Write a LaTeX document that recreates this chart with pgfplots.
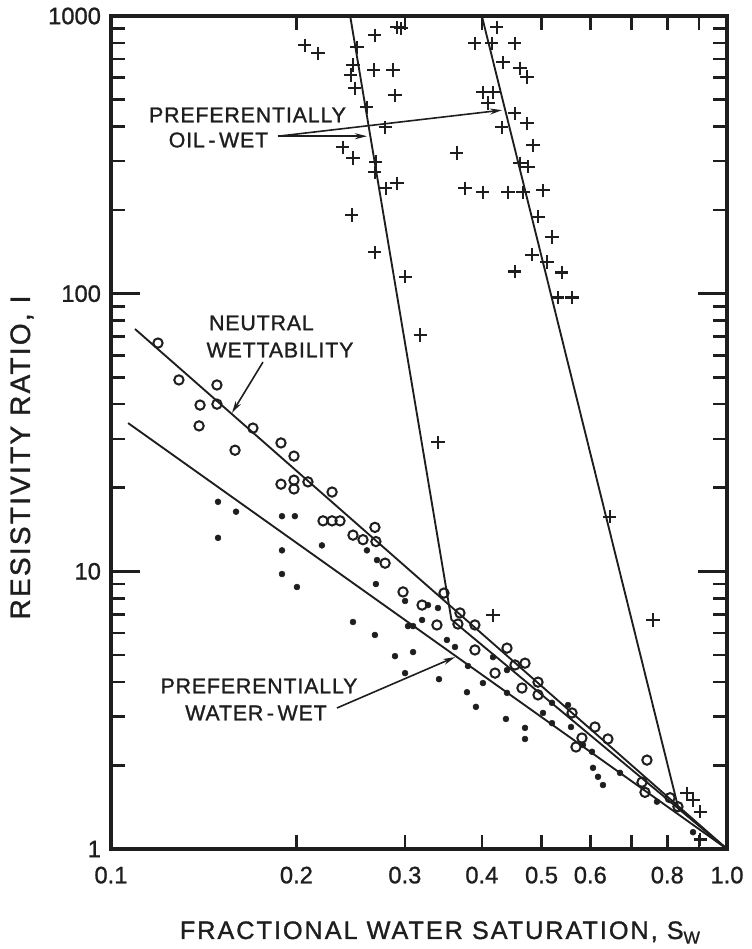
\documentclass[border=0pt]{standalone}
\usepackage{fontspec}
\setmainfont[FakeBold=1]{Liberation Sans}
\newfontfamily\tickfont[FakeBold=1]{Liberation Sans}
\newfontfamily\annfont[LetterSpace=4,FakeBold=1.2]{Liberation Sans}
\newfontfamily\axfont[LetterSpace=8,FakeBold=1.2]{Liberation Sans}
\usepackage{pgfplots}
\pgfplotsset{compat=1.18}
\usetikzlibrary{arrows.meta}
\definecolor{ink}{RGB}{30,30,30}

\pgfplotstableread{
x y
0.2064 785
0.2168 735
0.2508 773
0.2471 666
0.2452 613
0.2489 550
0.2603 470
0.2380 337
0.2471 308
0.2692 298
0.2682 274
0.2461 192
0.2682 141
0.2682 853
0.2672 639
0.2870 639
0.2891 519
0.2786 398
0.2913 912
0.2957 904
0.2795 240
0.2913 250
0.3645 321
0.3756 240
0.4016 232
0.4411 232
0.4665 232
0.5027 236
0.3898 799
0.4154 799
0.4232 912
0.4527 799
0.4329 682
0.4613 649
0.4735 603
0.4016 532
0.4170 532
0.4093 486
0.4527 447
0.4735 411
0.4312 398
0.4843 343
0.4613 295
0.4753 286
0.4934 189
0.5199 160
0.4824 138
0.5103 130
0.4527 120
0.5396 119
0.5316 97
0.5603 97
0.3002 115
0.3175 71
0.3395 29.2
0.6457 15.7
0.4170 6.96
0.7585 6.68
0.8611 1.59
0.8807 1.50
0.9042 1.36
0.9042 1.08
}\oilwet

\pgfplotstableread{
x y
0.1192 66.4
0.1289 48.9
0.1486 46.9
0.1395 39.7
0.1486 40.0
0.1390 33.4
0.1700 32.8
0.1590 27.3
0.1888 29.0
0.1982 26.0
0.1888 20.6
0.1982 21.3
0.1982 19.8
0.2088 21.0
0.2285 19.3
0.2209 15.2
0.2285 15.2
0.2354 15.2
0.2471 13.5
0.2565 13.0
0.2682 14.4
0.2692 12.8
0.2786 10.7
0.2979 8.43
0.3472 8.35
0.3199 7.56
0.3686 7.08
0.3658 6.46
0.3898 6.41
0.3382 6.41
0.3898 5.21
0.4394 5.29
0.4527 4.60
0.4700 4.67
0.4202 4.30
0.4647 3.80
0.4934 3.99
0.4934 3.59
0.5603 3.09
0.6105 2.75
0.5815 2.51
0.5687 2.33
0.6408 2.49
0.7415 2.09
0.7278 1.74
0.7360 1.60
0.8083 1.53
0.8325 1.42
}\neutral

\pgfplotstableread{
x y
0.1492 17.8
0.1596 16.4
0.1492 13.2
0.1895 15.8
0.1989 15.8
0.2200 12.4
0.1895 11.9
0.1895 9.78
0.2004 8.78
0.2603 11.9
0.2703 10.98
0.2692 9.00
0.2471 6.57
0.2682 5.90
0.3002 7.82
0.3395 7.38
0.3271 7.56
0.3199 6.68
0.3035 6.35
0.3093 6.35
0.3511 5.66
0.3618 5.34
0.2891 4.95
0.3093 5.12
0.3002 4.30
0.3408 4.09
0.3798 4.56
0.3784 3.67
0.3913 3.25
0.4016 3.96
0.4170 4.91
0.4394 4.41
0.4394 3.65
0.4377 2.94
0.4700 2.73
0.4700 2.49
0.5027 3.09
0.5199 2.84
0.5199 3.36
0.5520 3.30
0.5582 2.75
0.5837 2.37
0.6037 2.24
0.6061 1.96
0.6175 1.82
0.6291 1.70
0.6704 1.88
0.7698 1.48
0.8807 1.15
}\waterwet

\begin{document}
\begin{tikzpicture}
\begin{loglogaxis}[
  scale only axis,
  width=462pt, height=624.75pt,
  xmin=0.1, xmax=1, ymin=1, ymax=1000,
  axis line style={line width=3.2pt, ink},
  xtick={0.1,0.2,0.3,0.4,0.5,0.6,0.8,1.0},
  xticklabels={0.1,0.2,0.3,0.4,0.5,0.6,0.8,1.0},
  minor xtick={0.2,0.3,0.4,0.5,0.6,0.7,0.8,0.9},
  ytick={1,10,100,1000},
  yticklabels={1,10,100,1000},
  minor ytick={2,3,4,5,6,7,8,9,20,30,40,50,60,70,80,90,200,300,400,500,600,700,800,900},
  tick style={line width=1.9pt, ink},
  major tick length=0pt,
  minor tick length=10.5pt,
  tick align=inside,
  /pgf/number format/assume math mode=true,
  ticklabel style={font=\tickfont\fontsize{17.8}{18}\selectfont, text=ink},
  xticklabel style={yshift=-9.75pt},
  yticklabel style={xshift=-4pt},
  xlabel={FRACTIONAL WATER SATURATION, S\raisebox{-3.5pt}{\fontsize{13}{13}\selectfont W}},
  ylabel={RESISTIVITY RATIO, I},
  every axis x label/.style={at={(axis description cs:0.534,-0.1080)}, anchor=base, font=\axfont\fontsize{18.9}{20}\selectfont, text=ink},
  every axis y label/.style={at={(axis description cs:-0.1445,0.470)}, anchor=center, rotate=90, font=\axfont\fontsize{21}{22}\selectfont, text=ink},
]
% longer major y ticks at 10 and 100 on both sides
\pgfplotsinvokeforeach{10,100}{
  \draw[ink, line width=1.9pt] (axis cs:0.1,#1) -- ++(21.75pt,0pt);
  \draw[ink, line width=1.9pt] (axis cs:1,#1) -- ++(-21.75pt,0pt);
}
% lines
\addplot[ink, line width=1.4pt] coordinates {(0.1066,34.2) (1,1)};
\addplot[ink, line width=1.4pt] coordinates {(0.1094,74.6) (1,1)};
\addplot[ink, line width=1.4pt] coordinates {(0.2445,1000) (0.357,6.7) (1,1)};
\addplot[ink, line width=1.4pt] coordinates {(0.400,1000) (0.834,1.40) (1,1)};
% data
\addplot[only marks, mark=+, mark size=4.9pt, mark options={line width=1.9pt, ink}] table {\oilwet};
\addplot[only marks, mark=o, mark size=3.5pt, mark options={line width=1.5pt, ink, fill=white}] table {\neutral};
\addplot[only marks, mark=*, mark size=2.2pt, mark options={ink, fill=ink}] table {\waterwet};
% annotations
\draw[ink, line width=1.2pt, -{Stealth[length=9pt,width=4.5pt]}] (axis cs:0.1867,369) -- (axis cs:0.2603,369);
\draw[ink, line width=1.2pt, -{Stealth[length=9pt,width=4.5pt]}] (axis cs:0.1867,369) -- (axis cs:0.4312,458);
\draw[ink, line width=1.2pt, -{Stealth[length=9pt,width=4.5pt]}] (axis cs:0.1765,56.7) -- (axis cs:0.1572,37.2);
\draw[ink, line width=1.2pt, -{Stealth[length=9pt,width=4.5pt]}] (axis cs:0.2327,3.22) -- (axis cs:0.3618,4.91);
\node[text=ink, font=\annfont\fontsize{16}{16}\selectfont, inner sep=0pt] at (rel axis cs:0.2216,0.8812) {PREFERENTIALLY};
\node[text=ink, font=\annfont\fontsize{16}{16}\selectfont, inner sep=0pt] at (rel axis cs:0.1745,0.8511) {OIL\,-\,WET};
\node[text=ink, font=\annfont\fontsize{16}{16}\selectfont, inner sep=0pt] at (rel axis cs:0.2403,0.1957) {PREFERENTIALLY};
\node[text=ink, font=\annfont\fontsize{16}{16}\selectfont, inner sep=0pt] at (rel axis cs:0.2443,0.6315) {NEUTRAL};
\node[text=ink, font=\annfont\fontsize{16}{16}\selectfont, inner sep=0pt] at (rel axis cs:0.2744,0.5990) {WETTABILITY};
\node[text=ink, font=\annfont\fontsize{16}{16}\selectfont, inner sep=0pt] at (rel axis cs:0.2354,0.1633) {WATER\,-\,WET};
\end{loglogaxis}
\pgfresetboundingbox
\useasboundingbox (-83.25pt,-75pt) rectangle (480.75pt,636.75pt);
\end{tikzpicture}
\end{document}
